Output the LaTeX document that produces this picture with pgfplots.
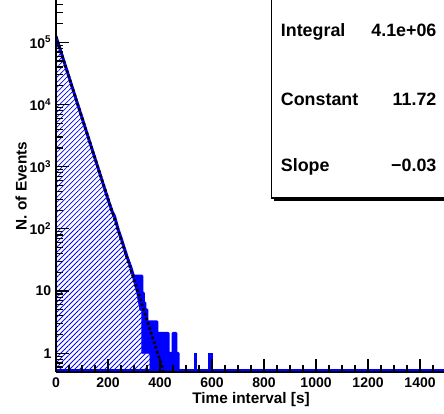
\documentclass[border=0pt]{standalone}
\usepackage{fontspec}
\setmainfont{Liberation Sans}
\usepackage{pgfplots}
\pgfplotsset{compat=1.18}
\usetikzlibrary{patterns.meta}
\begin{document}
\begin{tikzpicture}
\useasboundingbox (-42pt,-31.5pt) rectangle (291pt,279pt);
\clip (-42pt,-31.5pt) rectangle (291pt,279pt);
\begin{axis}[
  scale only axis, width=291pt, height=279pt,
  at={(0pt,0pt)}, anchor=south west,
  xmin=0, xmax=1492, ymode=log, ymin=0.5, ymax=4.79e5,
  axis lines=left, axis line style={-, line width=1.1pt},
  axis on top,
  xtick={0,200,400,600,800,1000,1200,1400},
  xticklabels={0,200,400,600,800,1000,1200,1400},
  minor xtick={50,100,150,250,300,350,450,500,550,650,700,750,850,900,950,1050,1100,1150,1250,1300,1350,1450},
  ytick={1,10,100,1000,10000,100000},
  yticklabels={1,10,{10\textsuperscript{2}},{10\textsuperscript{3}},{10\textsuperscript{4}},{10\textsuperscript{5}}},
  minor ytick={0.6,0.7,0.8,0.9,2,3,4,5,6,7,8,9,20,30,40,50,60,70,80,90,200,300,400,500,600,700,800,900,2000,3000,4000,5000,6000,7000,8000,9000,20000,30000,40000,50000,60000,70000,80000,90000,200000,300000,400000},
  tick align=inside,
  major tick length=9.5pt, minor tick length=5pt,
  every tick/.style={black, line width=0.9pt},
  tick label style={font=\bfseries\fontsize{10.5}{12}\selectfont},
  xticklabel style={yshift=-1pt},
  /pgf/number format/assume math mode=true,
  xlabel={Time interval [s]}, ylabel={N. of Events},
  every axis x label/.style={at={(axis description cs:0.5026,-0.075)}, anchor=center, font=\bfseries\fontsize{11.5}{13}\selectfont},
  every axis y label/.style={at={(axis description cs:-0.09,0.5)}, rotate=90, anchor=center, font=\bfseries\fontsize{11.5}{13}\selectfont},
]
% hatched area under the histogram
\addplot[draw=none, pattern={Lines[angle=45,distance=2.65pt,line width=0.6pt]}, pattern color=blue]
  coordinates {(0,0.4) (0,125000) (200,290) (297,17) (310,9.3) (323,4.9) (330,4.9) (330,1) (361,1) (361,0.4)} -- cycle;
% fluctuation band (solid blue)
\addplot[fill=blue, draw=blue, line width=0.5pt]
  coordinates {(288,24) (298,17.5) (330,17.5) (330,9.3) (336,9.3) (336,6.5) (342,6.5) (342,5) (350,5) (350,3.2) (388,3.2) (388,2.1) (431,2.1) (431,1) (450,1) (450,2.1) (461,2.1) (461,1) (470,1) (470,0.45) (361,0.45) (361,1) (330,1) (330,4.9) (323,4.9) (310,9.3) (297,15) (288,22)} -- cycle;
% histogram outline
\addplot[blue, line width=2.2pt, line join=round]
  coordinates {(0,125000) (200,300) (215,195) (225,160) (240,95) (250,72) (262,50) (275,34) (288,24) (298,17.5) (330,17.5) (330,9.3) (336,9.3) (336,6.5) (342,6.5) (342,5) (350,5) (350,3.2) (388,3.2) (388,2.1) (431,2.1) (431,1) (450,1) (450,2.1) (461,2.1) (461,1) (470,1) (470,0.53)};
% isolated bins
\addplot[fill=blue, draw=blue, line width=0.5pt] coordinates {(531,0.45) (531,1) (538,1) (538,0.45)} -- cycle;
\addplot[fill=blue, draw=blue, line width=0.5pt] coordinates {(586,0.45) (586,1) (603,1) (603,0.45)} -- cycle;
% empty bins along the bottom
\addplot[blue, line width=1.5pt] coordinates {(0,0.53) (1492,0.53)};
% exponential fit
\addplot[black, line width=2pt, dash pattern=on 2pt off 1.75pt] coordinates {(0,123000) (414,0.5)};
% stats box
\fill[black] (rel axis cs:0.5631,0.4597) rectangle (rel axis cs:1.2,1.2);
\filldraw[fill=white, draw=black, line width=0.8pt] (rel axis cs:0.5554,0.4677) rectangle (rel axis cs:1.2,1.2);
\node[anchor=base west, inner sep=0pt, font=\bfseries\fontsize{13.4}{16}\selectfont] at (rel axis cs:0.579,0.9013) {Integral};
\node[anchor=base east, inner sep=0pt, font=\bfseries\fontsize{13.4}{16}\selectfont] at (rel axis cs:0.9812,0.9013) {4.1e+06};
\node[anchor=base west, inner sep=0pt, font=\bfseries\fontsize{13.4}{16}\selectfont] at (rel axis cs:0.579,0.7151) {Constant};
\node[anchor=base east, inner sep=0pt, font=\bfseries\fontsize{13.4}{16}\selectfont] at (rel axis cs:0.9812,0.7151) {11.72};
\node[anchor=base west, inner sep=0pt, font=\bfseries\fontsize{13.4}{16}\selectfont] at (rel axis cs:0.579,0.5384) {Slope};
\node[anchor=base east, inner sep=0pt, font=\bfseries\fontsize{13.4}{16}\selectfont] at (rel axis cs:0.9812,0.5384) {−0.03};
\end{axis}
\end{tikzpicture}
\end{document}
